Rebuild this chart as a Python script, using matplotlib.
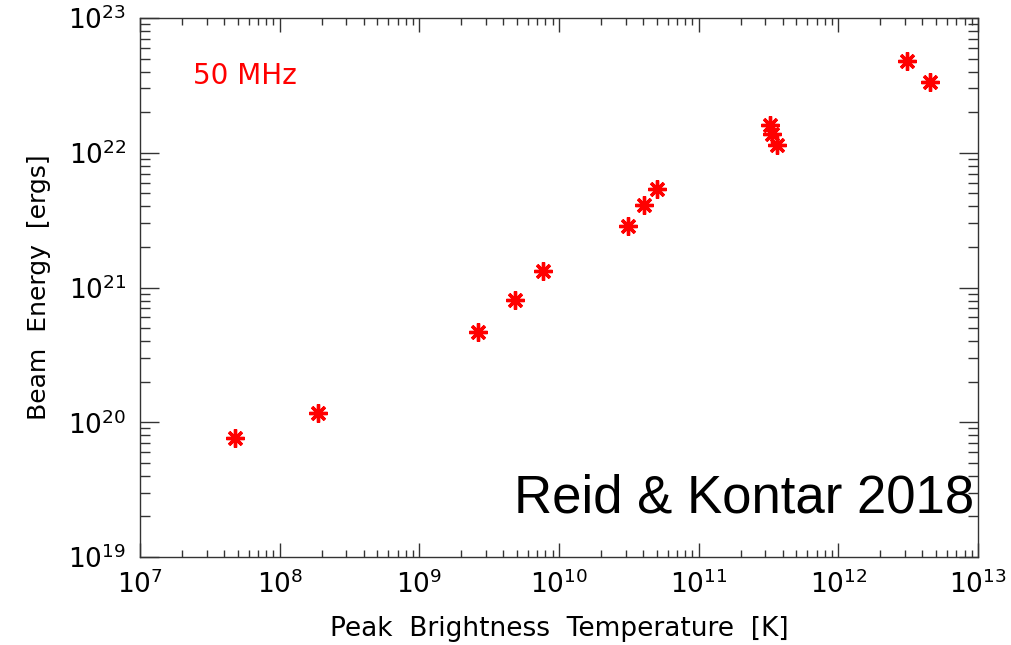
import matplotlib
matplotlib.use("Agg")
import matplotlib.pyplot as plt
from matplotlib.ticker import LogLocator, NullFormatter

# peak brightness temperature [K] and beam energy [ergs]
temp = [4.8e7, 1.88e8, 2.63e9, 4.83e9, 7.67e9, 3.11e10, 4.05e10, 5.0e10,
        3.24e11, 3.34e11, 3.63e11, 3.09e12, 4.52e12]
energy = [7.6e19, 1.17e20, 4.68e20, 8.07e20, 1.32e21, 2.86e21, 4.09e21, 5.38e21,
          1.6e22, 1.38e22, 1.14e22, 4.8e22, 3.35e22]

xticks = [1e7, 1e8, 1e9, 1e10, 1e11, 1e12, 1e13]
xlabels = ['$10^{7}$', '$10^{8}$', '$10^{9}$', '$10^{10}$', '$10^{11}$', '$10^{12}$', '$10^{13}$']
yticks = [1e19, 1e20, 1e21, 1e22, 1e23]
ylabels = ['$10^{19}$', '$10^{20}$', '$10^{21}$', '$10^{22}$', '$10^{23}$']

plt.rcParams['mathtext.default'] = 'regular'
plt.rcParams['font.family'] = 'DejaVu Sans'

fig = plt.figure(figsize=(10.11, 6.45), dpi=100)
ax = fig.add_axes([0.1385, 0.1364, 0.8289, 0.8357])

ax.plot(temp, energy, linestyle='none', marker=(8, 2, 0), markersize=13,
        markeredgewidth=2.4, color='red', markeredgecolor='red')

ax.set_xscale('log')
ax.set_yscale('log')
ax.set_xlim(1e7, 1e13)
ax.set_ylim(1e19, 1e23)

ax.set_xticks(xticks)
ax.set_xticklabels(xlabels, fontsize=19)
ax.set_yticks(yticks)
ax.set_yticklabels(ylabels, fontsize=19)
ax.xaxis.set_minor_locator(LogLocator(base=10, subs=range(2, 10), numticks=20))
ax.yaxis.set_minor_locator(LogLocator(base=10, subs=range(2, 10), numticks=20))
ax.xaxis.set_minor_formatter(NullFormatter())
ax.yaxis.set_minor_formatter(NullFormatter())

ax.tick_params(which='both', direction='in', top=True, right=True, color='#333333', width=1)
ax.tick_params(axis='x', which='major', length=10, pad=10)
ax.tick_params(axis='x', which='minor', length=5)
ax.tick_params(axis='y', which='major', length=14, pad=10)
ax.tick_params(axis='y', which='minor', length=7)
for s in ax.spines.values():
    s.set_color('#333333')
    s.set_linewidth(1)

ax.set_xlabel('Peak  Brightness  Temperature  [K]', fontsize=19, labelpad=12)
ax.set_ylabel('Beam  Energy  [ergs]', fontsize=18, labelpad=12)

ax.text(0.063, 0.878, '50 MHz', transform=ax.transAxes, color='red', fontsize=20)
ax.text(0.995, 0.082, 'Reid & Kontar 2018', transform=ax.transAxes, ha='right',
        fontsize=38, family='Liberation Sans', color='black')

fig.savefig('out.png', dpi=100)
